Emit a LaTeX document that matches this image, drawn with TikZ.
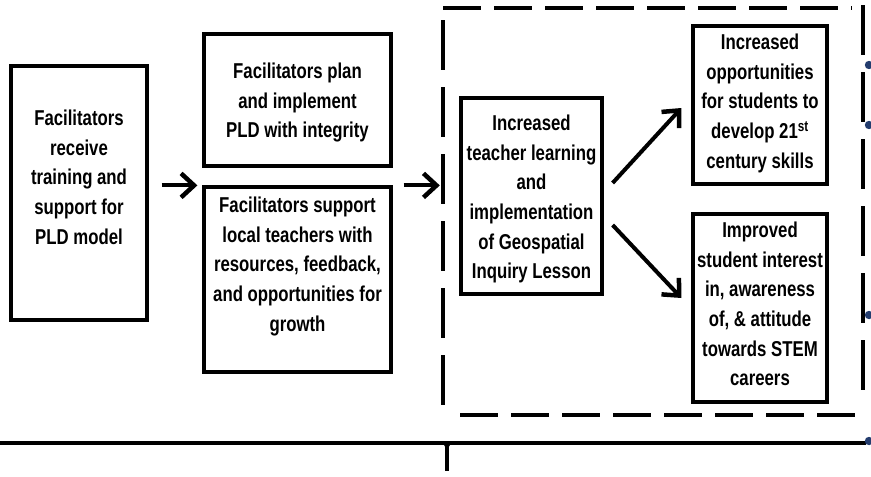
\documentclass[tikz,border=0pt]{standalone}
\usepackage{fontspec}
\setmainfont{Liberation Sans}[FakeStretch=0.78]
\usetikzlibrary{arrows.meta}
\definecolor{dotblue}{RGB}{35,60,110}
\tikzset{
  box/.style={draw=black, line width=3.2pt, rectangle, inner sep=0pt},
  txt/.style={anchor=north, align=center, inner sep=0pt, font=\fontsize{21.5}{29.6}\selectfont\bfseries},
  arr/.style={line width=4pt, -{Straight Barb[length=13pt,width=24pt,line width=4.5pt]}},
  hdash/.style={line width=3.8pt, dash pattern=on 38pt off 13pt},
  vdash/.style={line width=3.8pt, dash pattern=on 50pt off 17pt},
}
\begin{document}
\begin{tikzpicture}[x=1pt,y=-1pt]
\useasboundingbox (0,0) rectangle (871,477);
% boxes
\node[box, minimum width=136pt, minimum height=254pt] (b1) at (79,193) {};
\node[box, minimum width=187pt, minimum height=132pt] (b2) at (297.5,100) {};
\node[box, minimum width=187pt, minimum height=185pt] (b3) at (297.5,279.5) {};
\node[box, minimum width=141pt, minimum height=196pt] (b4) at (531.5,196) {};
\node[box, minimum width=134pt, minimum height=158pt] (b5) at (760,105) {};
\node[box, minimum width=134pt, minimum height=188pt] (b6) at (760,308) {};
% texts
\node[txt] (t1) at (79,110) {Facilitators\\receive\\training and\\support for\\PLD model};
\node[txt] (t2) at (297.5,63) {Facilitators plan\\and implement\\PLD with integrity};
\node[txt] (t3) at (297.5,197) {Facilitators support\\local teachers with\\resources, feedback,\\and opportunities for\\growth};
\node[txt] (t4) at (531.5,115) {Increased\\teacher learning\\and\\implementation\\of Geospatial\\Inquiry Lesson};
\node[txt] (t5) at (760,34) {Increased\\opportunities\\for students to\\develop 21\textsuperscript{st}\\century skills};
\node[txt] (t6) at (760,222) {Improved\\student interest\\in, awareness\\of, \& attitude\\towards STEM\\careers};
% dashed group
\node[inner sep=0pt, minimum width=420pt, minimum height=408pt] (grp) at (653,212) {};
\draw[hdash] (443,8) -- (852,8);
\draw[vdash] (443,20) -- (443,412);
\draw[hdash] (460,415) -- (866,415);
\draw[vdash] (863,5) -- (863,402);
% arrows
\draw[arr] ([xshift=13pt]b1.east |- b3.north) -- ([xshift=-5pt]b3.north west);
\draw[arr] ([xshift=11pt]b3.north east) -- ([xshift=-3pt]grp.west |- b3.north);
\draw[arr] ([shift={(9,-13)}]b4.east) -- ([shift={(-10,3)}]b5.west);
\draw[arr] ([shift={(9,29)}]b4.east) -- ([shift={(-10,-10)}]b6.west);
% timeline
\coordinate (tl0) at (0,443);
\coordinate (tl1) at (866,443);
\draw[line width=3.5pt] (tl0) -- (tl1);
\coordinate (tk) at (447,443);
\draw[line width=3.5pt] (tk) -- ++(0,28);
\fill (442,441.5) -- (452,441.5) -- (447,450) -- cycle;
% blue dots
\foreach \yy in {65,125,315,441} \fill[dotblue] (869,\yy) circle (4.2);
\end{tikzpicture}
\end{document}
